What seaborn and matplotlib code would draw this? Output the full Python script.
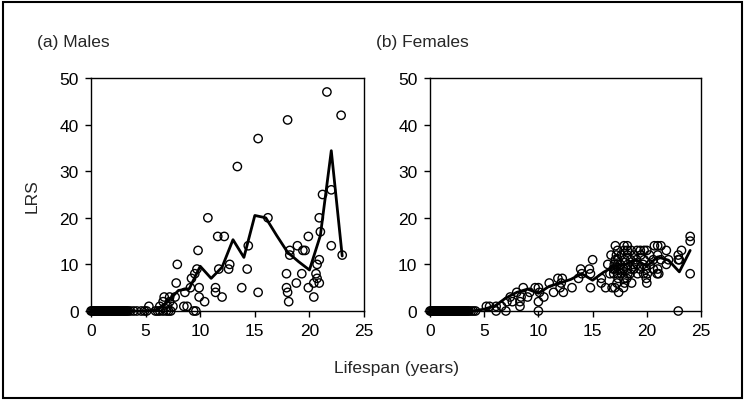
import matplotlib
matplotlib.use("Agg")
import matplotlib.pyplot as plt
import seaborn as sns
from matplotlib.patches import Rectangle

# ==========================
# DATA
# ==========================

# Males: individual lifespans (years) and lifetime reproductive success
male_age = [
    0.0, 0.1, 0.2, 0.3, 0.4, 0.5, 0.6, 0.7, 0.8, 0.9, 1.0, 1.1, 1.2, 1.3, 1.4,
    1.5, 1.6, 1.7, 1.8, 1.9, 2.0, 2.1, 2.2, 2.3, 2.4, 2.5, 2.6, 2.7, 2.8, 2.9,
    3.0, 3.1, 3.2, 3.3, 3.4, 3.6, 3.9, 4.2, 4.6, 4.9, 5.1, 5.9, 6.1, 6.3, 6.6,
    6.9, 7.1, 7.3, 9.4, 9.6,
    5.3, 6.3, 7.0, 7.5, 8.5, 8.8,
    6.6, 7.2, 10.4, 18.1,
    6.7, 7.2, 7.7, 9.9, 20.4, 12.0,
    8.6, 11.4, 15.3, 18.0,
    9.1, 9.9, 11.4, 13.8, 17.9, 19.9,
    7.8, 18.8, 20.9, 20.4,
    9.2, 20.7,
    9.5, 17.9, 19.3, 20.6,
    9.7, 11.7, 12.6, 14.3,
    7.9, 12.7, 20.7,
    20.9,
    18.2, 23.0,
    9.8, 18.2, 19.4, 19.6,
    14.4, 18.9, 22.0,
    11.6, 12.2, 19.9,
    21.0,
    10.7, 16.2, 20.9,
    21.2, 22.0,
    13.4, 15.3, 18.0, 22.9, 21.6,
]
male_lrs = [
    0, 0, 0, 0, 0, 0, 0, 0, 0, 0, 0, 0, 0, 0, 0,
    0, 0, 0, 0, 0, 0, 0, 0, 0, 0, 0, 0, 0, 0, 0,
    0, 0, 0, 0, 0, 0, 0, 0, 0, 0, 0, 0, 0, 0, 0,
    0, 0, 0, 0, 0,
    1, 1, 1, 1, 1, 1,
    2, 2, 2, 2,
    3, 3, 3, 3, 3, 3,
    4, 4, 4, 4,
    5, 5, 5, 5, 5, 5,
    6, 6, 6, 6,
    7, 7,
    8, 8, 8, 8,
    9, 9, 9, 9,
    10, 10, 10,
    11,
    12, 12,
    13, 13, 13, 13,
    14, 14, 14,
    16, 16, 16,
    17,
    20, 20, 20,
    25, 26,
    31, 37, 41, 42, 47,
]

# Males: mean LRS by age class
male_mean_age = [0, 1, 2, 3, 4, 5, 6, 7, 8, 9, 10, 11, 12, 13, 14, 15, 16,
                 17, 18, 19, 20, 21, 22, 23]
male_mean_lrs = [0, 0, 0, 0, 0, 0, 0.2, 2.0, 4.4, 4.8, 9.6, 7.0, 9.4, 15.3,
                 11.5, 20.5, 20.0, 16.2, 12.6, 10.6, 8.8, 16.2, 34.4, 11.8]

# Females: individual lifespans (years) and lifetime reproductive success
female_age = [
    0.0, 0.1, 0.2, 0.3, 0.4, 0.5, 0.6, 0.7, 0.8, 0.9, 1.0, 1.1, 1.2, 1.3, 1.4,
    1.5, 1.6, 1.7, 1.8, 1.9, 2.0, 2.1, 2.2, 2.3, 2.4, 2.5, 2.6, 2.7, 2.8, 2.9,
    3.0, 3.1, 3.2, 3.3, 3.4, 3.5, 3.6, 3.8, 4.0, 4.2, 6.1, 7.0, 10.0, 22.9,
    5.2, 5.5, 6.1, 6.6, 8.3,
    7.1, 8.3, 10.0, 7.6,
    7.4, 8.4, 9.0, 10.5,
    9.2, 10.1, 11.4, 12.3, 8.0, 17.4,
    8.6, 9.7, 10.0, 12.0, 13.1, 14.8, 16.2, 17.05, 17.85, 16.8,
    11.0, 12.1, 15.8, 17.25, 17.95, 20.0, 18.6,
    12.2, 13.7, 15.8, 17.35, 17.9, 18.15, 19.95, 11.8,
    14.8, 16.95, 17.3, 17.65, 18.25, 18.45, 19.15, 19.7, 20.05, 20.95, 21.1,
    24.0, 14.0, 16.6,
    13.9, 14.7, 17.05, 17.4, 17.6, 17.85, 18.2, 18.55, 18.8, 19.35, 19.95,
    20.6, 21.0, 16.9,
    16.4, 17.0, 17.55, 18.25, 18.75, 19.1, 19.65, 20.3, 21.8, 17.3,
    15.0, 17.1, 17.35, 17.95, 18.5, 19.05, 19.75, 20.6, 21.3, 22.0, 22.9, 23.0,
    16.7, 17.2, 17.65, 18.2, 18.85, 19.45, 20.25, 21.0, 22.9,
    17.3, 17.9, 18.2, 18.55, 19.1, 19.4, 19.75, 20.0, 21.8, 23.2,
    17.1, 17.9, 20.7, 21.0, 21.3, 18.2,
    24.0,
    24.0,
]
female_lrs = [
    0, 0, 0, 0, 0, 0, 0, 0, 0, 0, 0, 0, 0, 0, 0,
    0, 0, 0, 0, 0, 0, 0, 0, 0, 0, 0, 0, 0, 0, 0,
    0, 0, 0, 0, 0, 0, 0, 0, 0, 0, 0, 0, 0, 0,
    1, 1, 1, 1, 1,
    2, 2, 2, 2,
    3, 3, 3, 3,
    4, 4, 4, 4, 4, 4,
    5, 5, 5, 5, 5, 5, 5, 5, 5, 5,
    6, 6, 6, 6, 6, 6, 6,
    7, 7, 7, 7, 7, 7, 7, 7,
    8, 8, 8, 8, 8, 8, 8, 8, 8, 8, 8,
    8, 8, 8,
    9, 9, 9, 9, 9, 9, 9, 9, 9, 9, 9,
    9, 9, 9,
    10, 10, 10, 10, 10, 10, 10, 10, 10, 10,
    11, 11, 11, 11, 11, 11, 11, 11, 11, 11, 11, 11,
    12, 12, 12, 12, 12, 12, 12, 12, 12,
    13, 13, 13, 13, 13, 13, 13, 13, 13, 13,
    14, 14, 14, 14, 14, 14,
    15,
    16,
]

# Females: mean LRS by age class
female_mean_age = [0, 1, 2, 3, 4, 5, 6, 7, 8, 9, 10, 11, 12, 13, 14, 15, 16,
                   17, 18, 19, 20, 21, 22, 23, 24]
female_mean_lrs = [0, 0, 0, 0, 0, 0.4, 1.1, 2.8, 4.0, 4.7, 3.8, 5.3, 6.0, 6.8,
                   8.0, 6.6, 8.3, 9.6, 10.0, 11.0, 9.6, 11.6, 10.9, 8.4, 13.0]

x_ticks = [0, 5, 10, 15, 20, 25]
y_ticks = [0, 10, 20, 30, 40, 50]

# ==========================
# STYLE
# ==========================

sns.set_style("ticks")
plt.rcParams['font.family'] = ['Liberation Sans', 'DejaVu Sans']
FS = 12.5

fig = plt.figure(figsize=(7.46, 4.02), dpi=100)
ax_m = fig.add_axes([0.1220, 0.2239, 0.3660, 0.5796])
ax_f = fig.add_axes([0.5764, 0.2239, 0.3633, 0.5796])


def draw_panel(ax, age, lrs, mean_age, mean_lrs):
    sns.scatterplot(x=age, y=lrs, ax=ax, marker="o", s=36,
                    facecolor="none", edgecolor="black", linewidth=1.0,
                    clip_on=False, zorder=2, legend=False)
    sns.lineplot(x=mean_age, y=mean_lrs, ax=ax, color="black",
                 linewidth=2.0, zorder=3, clip_on=False)
    ax.set_xlim(0, 25)
    ax.set_ylim(0, 50)
    ax.set_xticks(x_ticks)
    ax.set_yticks(y_ticks)
    ax.set_xlabel("")
    ax.set_ylabel("")
    for side in ["left", "right", "top", "bottom"]:
        ax.spines[side].set_visible(True)
        ax.spines[side].set_color("black")
        ax.spines[side].set_linewidth(1.0)
    ax.tick_params(axis="both", direction="out", length=4, width=1,
                   color="black", labelsize=FS, labelcolor="black", pad=5,
                   top=False, right=False)


draw_panel(ax_m, male_age, male_lrs, male_mean_age, male_mean_lrs)
draw_panel(ax_f, female_age, female_lrs, female_mean_age, female_mean_lrs)

# ==========================
# LABELS AND FRAME
# ==========================

fig.text(37 / 746, 1 - 43 / 402, "(a) Males", ha="left", va="center", fontsize=FS)
fig.text(376 / 746, 1 - 43 / 402, "(b) Females", ha="left", va="center", fontsize=FS)
fig.text(32 / 746, 1 - 196 / 402, "LRS", rotation=90, ha="center", va="center",
         fontsize=FS)
fig.text(397 / 746, 1 - 369 / 402, "Lifespan (years)", ha="center", va="center",
         fontsize=FS)

fig.patches.append(Rectangle((3 / 746, 3 / 402), 739 / 746, 396 / 402,
                             transform=fig.transFigure, fill=False,
                             edgecolor="black", linewidth=1.5))

plt.savefig("out.png", dpi=100)
